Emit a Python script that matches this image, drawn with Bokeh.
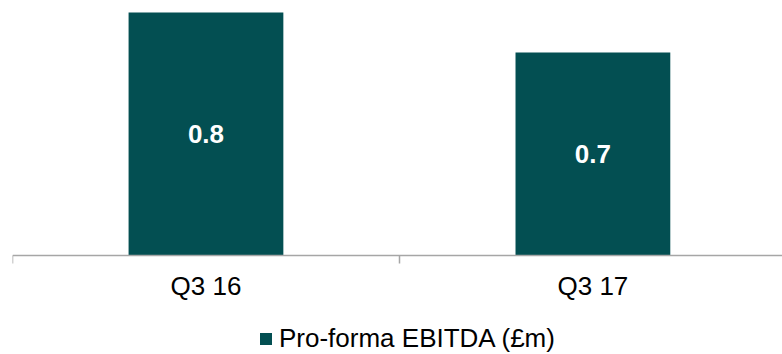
from bokeh.plotting import figure
from bokeh.models import Range1d, FixedTicker, ColumnDataSource, Legend, LegendItem
from bokeh.core.properties import value
from bokeh.embed import file_html
from bokeh.resources import INLINE

categories = ["Q3 16", "Q3 17"]
values = [0.79, 0.66]
series_name = "Pro-forma EBITDA (£m)"

FONT = "Liberation Sans"
BAR = "#034f52"
AXIS = "#a6a6a6"

xs = [i + 0.5 for i in range(len(categories))]
src = ColumnDataSource(dict(
    x=xs, top=values, mid=[v / 2 for v in values],
    lbl=[f"{v:.1f}" for v in values],
))

p = figure(width=782, height=354, output_backend="svg", toolbar_location=None,
           x_range=Range1d(0, len(categories) - 0.01), y_range=Range1d(-0.322, 0.829),
           y_axis_location=None, min_border_left=12, min_border_right=0,
           min_border_top=0, min_border_bottom=0)
p.outline_line_color = None
p.xgrid.visible = False
p.ygrid.visible = False

r = p.vbar(x="x", top="top", bottom=0, width=0.40, source=src,
           fill_color=BAR, line_color=None)
p.text(x="x", y="mid", text="lbl", source=src, text_align="center",
       text_baseline="middle", text_color="white", text_font_size="26px",
       text_font_style="bold", text_font=value(FONT))

ax = p.xaxis[0]
ax.fixed_location = 0
ax.ticker = FixedTicker(ticks=xs, minor_ticks=list(range(len(categories) + 1)))
ax.major_label_overrides = {x: c for x, c in zip(xs, categories)}
ax.axis_line_color = AXIS
ax.axis_line_width = 1.5
ax.major_tick_line_color = None
ax.minor_tick_line_color = AXIS
ax.minor_tick_line_width = 1.5
ax.minor_tick_in = 0
ax.minor_tick_out = 8
ax.major_tick_out = 0
ax.major_tick_in = 0
ax.major_label_standoff = 8
ax.major_label_text_font = FONT
ax.major_label_text_font_size = "26px"
ax.major_label_text_color = "black"

legend = Legend(items=[LegendItem(label=series_name, renderers=[r])],
                location=(246, 0), orientation="horizontal",
                label_text_font=FONT, label_text_font_size="26px",
                label_text_color="black", glyph_width=15, glyph_height=15,
                label_standoff=6, padding=0, margin=0, spacing=0,
                border_line_color=None, background_fill_alpha=0)
p.add_layout(legend)

open("out.html", "w").write(file_html(p, INLINE))
